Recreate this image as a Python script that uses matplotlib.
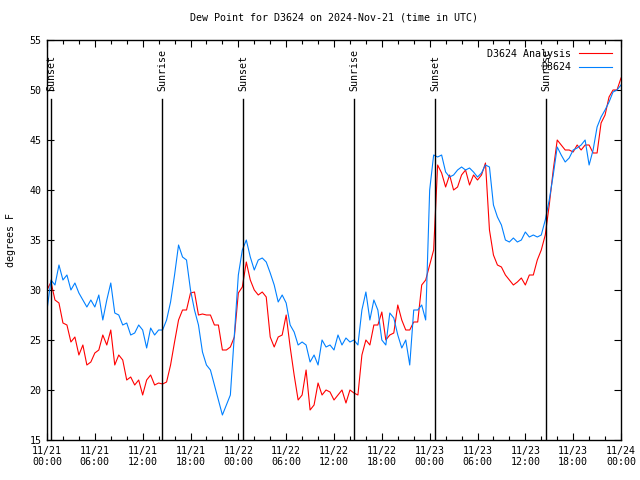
import matplotlib
matplotlib.use("Agg")
import matplotlib.pyplot as plt
import matplotlib.dates as mdates
import pandas as pd
import numpy as np

start = "2024-11-21 00:00"
step = "30min"

analysis = [30, 30.8, 29, 28.7, 26.7, 26.5, 24.8, 25.3, 23.5, 24.5,
            22.5, 22.8, 23.7, 24, 25.5, 24.5, 26, 22.5, 23.5, 23,
            21, 21.3, 20.5, 21, 19.5, 21, 21.5, 20.5, 20.7, 20.6,
            20.8, 22.5, 24.8, 27, 28, 28, 29.7, 29.8, 27.5, 27.6,
            27.5, 27.5, 26.5, 26.5, 24, 24, 24.3, 25.3, 29.7, 30.3,
            32.8, 31, 30, 29.5, 29.8, 29.3, 25.3, 24.3, 25.3, 25.5,
            27.5, 24.3, 21.5, 19, 19.5, 22, 18, 18.5, 20.7, 19.5,
            20, 19.8, 19, 19.5, 20, 18.7, 20, 19.7, 19.5, 23.5,
            25, 24.5, 26.5, 26.5, 27.8, 25, 25.5, 25.7, 28.5, 27,
            26, 26, 26.8, 26.8, 30.5, 31, 32.5, 34, 42.5, 41.7,
            40.3, 41.5, 40, 40.3, 41.5, 42, 40.5, 41.5, 41, 41.5,
            42.7, 36, 33.5, 32.5, 32.3, 31.5, 31, 30.5, 30.8, 31.2,
            30.5, 31.5, 31.5, 33, 34, 35.5, 38.5, 42, 45, 44.5,
            44, 44, 43.8, 44.5, 44, 44.5, 44.5, 43.7, 43.7, 46.7,
            47.5, 49.3, 50, 50, 51.2]

observed = [28, 31, 30.5, 32.5, 31, 31.5, 30, 30.7, 29.7, 29,
            28.3, 29, 28.3, 29.5, 27, 29, 30.7, 27.7, 27.5, 26.5,
            26.7, 25.5, 25.7, 26.5, 26, 24.2, 26.2, 25.5, 26, 26,
            27, 28.8, 31.5, 34.5, 33.3, 33, 30, 28, 26.5, 23.8,
            22.5, 22, 20.5, 19, 17.5, 18.5, 19.5, 25.5, 31.5, 34,
            35, 33.3, 32, 33, 33.2, 32.8, 31.7, 30.5, 28.8, 29.5,
            28.7, 26.5, 25.8, 24.5, 24.8, 24.5, 22.8, 23.5, 22.5, 25,
            24.3, 24.5, 24, 25.5, 24.5, 25.2, 24.8, 25, 24.5, 28,
            29.8, 27, 29, 28, 25, 24.5, 27.7, 27.2, 25.5, 24.2,
            25, 22.5, 28, 28, 28.5, 27, 40, 43.5, 43.3, 43.5,
            41.8, 41.3, 41.5, 42, 42.3, 42, 42.2, 41.8, 41.3, 41.7,
            42.5, 42.3, 38.5, 37.3, 36.5, 35, 34.8, 35.2, 34.8, 35,
            35.8, 35.3, 35.5, 35.3, 35.5, 37, 39, 41.5, 44.3, 43.5,
            42.8, 43.2, 44, 44.2, 44.5, 45, 42.5, 44, 46.3, 47.3,
            48, 48.8, 49.8, 50, 50.5]

sun_events = ["2024-11-21 00:31", "2024-11-21 14:28", "2024-11-22 00:35",
              "2024-11-22 14:32", "2024-11-23 00:40", "2024-11-23 14:37"]
sun_labels = ["Sunset", "Sunrise", "Sunset", "Sunrise", "Sunset", "Sunrise"]

times = pd.date_range(start, periods=len(analysis), freq=step)

mono = "DejaVu Sans Mono"
fs = 7.2

fig = plt.figure(figsize=(6.4, 4.8), dpi=100)
ax = fig.add_axes([47/640, 1-440/480, (621-47)/640, 400/480])

ax.plot(times, analysis, color="#ff0000", lw=0.8, label="D3624 Analysis")
ax.plot(times, observed, color="#0080ff", lw=0.8, label="D3624")

for t, lab in zip(sun_events, sun_labels):
    tt = pd.Timestamp(t)
    ax.plot([tt, tt], [15, 49.1], color="black", lw=1.0)
    ax.text(tt, 49.85, lab, rotation=90, ha="center", va="bottom",
            fontsize=fs, family=mono)

ax.set_xlim(pd.Timestamp("2024-11-21 00:00"), pd.Timestamp("2024-11-24 00:00"))
ax.set_ylim(15, 55)
ax.set_yticks(np.arange(15, 56, 5))
ax.xaxis.set_major_locator(mdates.HourLocator(byhour=[0, 6, 12, 18]))
ax.xaxis.set_minor_locator(mdates.HourLocator(byhour=range(0, 24, 2)))
ax.xaxis.set_major_formatter(mdates.DateFormatter("%m/%d\n%H:%M"))

ax.tick_params(axis="both", which="both", direction="in", top=True, right=True,
               labelsize=fs, width=0.8)
ax.tick_params(axis="both", which="major", length=5, pad=4)
ax.tick_params(axis="both", which="minor", length=3)
for lab in ax.get_xticklabels() + ax.get_yticklabels():
    lab.set_family(mono)
for sp in ax.spines.values():
    sp.set_linewidth(1.0)

ax.set_ylabel("degrees F", fontsize=fs, family=mono, labelpad=9.5)
ax.set_title("Dew Point for D3624 on 2024-Nov-21 (time in UTC)",
             fontsize=fs, family=mono, pad=14)

leg = ax.legend(loc="upper right", frameon=False, markerfirst=False,
                prop={"family": mono, "size": fs}, handlelength=3.3,
                borderaxespad=0.5, labelspacing=0.35, handletextpad=0.8)
for t in leg.get_texts():
    t.set_ha("right")

fig.savefig("out.png", dpi=100)
